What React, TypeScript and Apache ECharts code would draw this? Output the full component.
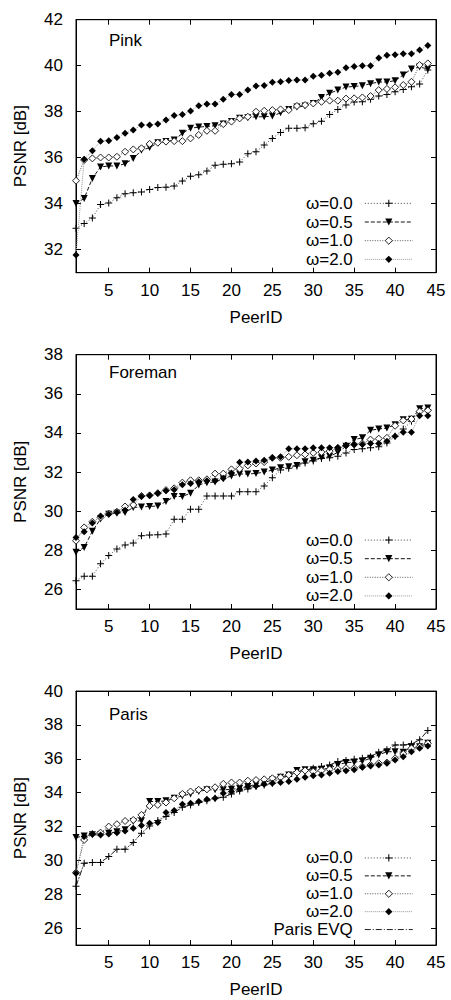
import React, { useEffect, useRef } from "react";
import * as echarts from "echarts";

// ---------- data ----------
const peerIds = [1, 2, 3, 4, 5, 6, 7, 8, 9, 10, 11, 12, 13, 14, 15, 16, 17, 18, 19, 20, 21, 22, 23, 24, 25, 26, 27, 28, 29, 30, 31, 32, 33, 34, 35, 36, 37, 38, 39, 40, 41, 42, 43, 44];
const xTicks = [5, 10, 15, 20, 25, 30, 35, 40, 45];
const pinkYTicks = [32, 34, 36, 38, 40, 42];
const foremanYTicks = [26, 28, 30, 32, 34, 36, 38];
const parisYTicks = [26, 28, 30, 32, 34, 36, 38, 40];
const seriesNames = ["ω=0.0", "ω=0.5", "ω=1.0", "ω=2.0"];
const evqName = "Paris EVQ";
const panelTitles = ["Pink", "Foreman", "Paris"];

const pinkW00 = [32.93, 33.14, 33.38, 33.96, 34.03, 34.26, 34.43, 34.48, 34.51, 34.62, 34.70, 34.72, 34.77, 34.99, 35.19, 35.26, 35.42, 35.67, 35.71, 35.74, 35.81, 36.17, 36.26, 36.55, 36.84, 37.10, 37.28, 37.28, 37.30, 37.48, 37.58, 37.88, 38.10, 38.29, 38.42, 38.43, 38.54, 38.68, 38.75, 38.87, 38.97, 39.09, 39.20, 39.81];
const pinkW05 = [34.01, 34.23, 35.10, 35.60, 35.64, 35.64, 35.74, 35.96, 36.32, 36.44, 36.65, 36.70, 36.77, 37.06, 37.28, 37.33, 37.36, 37.39, 37.46, 37.57, 37.71, 37.74, 37.78, 37.78, 37.81, 37.95, 38.10, 38.20, 38.25, 38.36, 38.62, 38.80, 38.94, 39.07, 39.10, 39.13, 39.22, 39.29, 39.29, 39.35, 39.60, 39.86, 39.94, 39.86];
const pinkW10 = [35.00, 35.90, 35.97, 36.01, 36.01, 36.04, 36.26, 36.36, 36.41, 36.60, 36.65, 36.70, 36.72, 36.72, 36.84, 36.99, 37.17, 37.17, 37.46, 37.57, 37.71, 37.78, 38.00, 38.04, 38.07, 38.10, 38.07, 38.25, 38.29, 38.36, 38.43, 38.48, 38.48, 38.57, 38.58, 38.62, 38.68, 38.94, 38.99, 39.06, 39.16, 39.30, 40.03, 40.10];
const pinkW20 = [31.77, 35.93, 36.30, 36.72, 36.74, 36.88, 37.06, 37.20, 37.42, 37.42, 37.46, 37.64, 37.83, 37.88, 38.03, 38.26, 38.33, 38.33, 38.54, 38.75, 38.75, 38.94, 39.12, 39.14, 39.28, 39.30, 39.36, 39.38, 39.38, 39.54, 39.58, 39.67, 39.71, 39.91, 39.96, 40.00, 40.00, 40.33, 40.45, 40.48, 40.52, 40.52, 40.68, 40.88];

const foremanW00 = [26.45, 26.68, 26.68, 27.31, 27.73, 28.07, 28.27, 28.37, 28.75, 28.78, 28.80, 28.83, 29.59, 29.59, 30.10, 30.10, 30.78, 30.78, 30.78, 30.78, 31.00, 31.00, 31.00, 31.29, 31.71, 32.10, 32.19, 32.31, 32.47, 32.56, 32.69, 32.73, 32.81, 32.98, 33.15, 33.19, 33.24, 33.29, 33.49, 33.83, 34.20, 34.60, 35.10, 35.19];
const foremanW05 = [27.90, 28.15, 28.97, 29.60, 29.85, 29.90, 29.93, 30.19, 30.22, 30.24, 30.27, 30.49, 30.75, 30.75, 30.92, 31.34, 31.46, 31.49, 31.66, 31.80, 31.90, 31.90, 31.93, 32.00, 32.10, 32.22, 32.27, 32.34, 32.53, 32.61, 32.73, 32.81, 33.00, 33.32, 33.66, 33.75, 34.14, 34.20, 34.25, 34.42, 34.68, 34.70, 35.24, 35.27];
const foremanW10 = [28.49, 29.17, 29.46, 29.68, 29.88, 29.97, 30.24, 30.32, 30.78, 30.81, 30.92, 31.08, 31.17, 31.46, 31.58, 31.58, 31.63, 31.92, 31.92, 32.14, 32.17, 32.34, 32.44, 32.51, 32.73, 32.73, 32.78, 32.86, 32.90, 32.98, 33.02, 33.07, 33.24, 33.36, 33.41, 33.46, 33.66, 33.71, 33.75, 34.37, 34.64, 34.71, 35.10, 35.15];
const foremanW20 = [28.66, 28.95, 29.40, 29.75, 29.85, 29.95, 30.05, 30.60, 30.75, 30.80, 30.92, 31.05, 31.10, 31.35, 31.42, 31.50, 31.55, 31.55, 31.68, 31.95, 32.50, 32.52, 32.56, 32.61, 32.73, 32.78, 33.19, 33.19, 33.19, 33.24, 33.24, 33.24, 33.24, 33.36, 33.41, 33.41, 33.46, 33.46, 33.58, 33.83, 34.03, 34.03, 34.88, 34.88];

const parisW00 = [28.47, 29.84, 29.88, 29.88, 30.23, 30.66, 30.66, 31.06, 31.61, 32.04, 32.36, 32.60, 32.83, 33.14, 33.28, 33.42, 33.52, 33.67, 33.73, 33.93, 34.10, 34.22, 34.36, 34.46, 34.56, 34.91, 34.95, 35.25, 35.31, 35.45, 35.54, 35.64, 35.84, 35.90, 35.97, 36.03, 36.13, 36.39, 36.53, 36.82, 36.82, 36.88, 37.12, 37.67];
const parisW05 = [31.35, 31.45, 31.51, 31.51, 31.60, 31.70, 31.81, 32.30, 32.35, 33.48, 33.48, 33.52, 33.67, 33.81, 33.93, 34.07, 34.17, 34.17, 34.17, 34.20, 34.26, 34.36, 34.50, 34.60, 34.75, 34.91, 35.05, 35.31, 35.35, 35.35, 35.38, 35.45, 35.64, 35.78, 35.80, 35.87, 36.03, 36.23, 36.42, 36.42, 36.39, 36.72, 36.72, 36.92];
const parisW10 = [29.28, 31.21, 31.56, 31.64, 32.00, 32.14, 32.33, 32.39, 32.69, 33.22, 33.28, 33.42, 33.67, 33.93, 34.07, 34.17, 34.20, 34.32, 34.52, 34.60, 34.60, 34.71, 34.75, 34.79, 34.85, 34.91, 35.05, 35.19, 35.31, 35.25, 35.31, 35.38, 35.40, 35.45, 35.45, 35.54, 35.64, 35.74, 35.78, 36.03, 36.29, 36.62, 36.72, 36.92];
const parisW20 = [29.24, 31.41, 31.56, 31.50, 31.56, 31.64, 31.74, 31.90, 32.06, 32.20, 32.24, 32.83, 32.95, 33.32, 33.38, 33.48, 33.61, 33.67, 33.97, 34.07, 34.20, 34.36, 34.40, 34.50, 34.56, 34.60, 34.66, 34.79, 34.91, 35.00, 35.05, 35.15, 35.25, 35.29, 35.35, 35.50, 35.58, 35.64, 35.74, 35.93, 36.13, 36.42, 36.62, 36.76];
// The EVQ curve is not distinguishable from the ω=0.0 curve in the picture.
const parisEvq = parisW00;

// ---------- styles / layout ----------
const FONT = "'Liberation Sans', Arial, Helvetica, sans-serif";
const FS = 17;
const PLUS = "path://M3,0H4V3H7V4H4V7H3V4H0V3H3Z";

const markerStyles = [
  { symbol: PLUS, symbolSize: 7, symbolRotate: 0, itemStyle: { color: "#000" }, lineStyle: { color: "#444", width: 1, type: [1, 2] } },
  { symbol: "triangle", symbolSize: 7, symbolRotate: 180, itemStyle: { color: "#000" }, lineStyle: { color: "#111", width: 1, type: [4, 2] } },
  { symbol: "diamond", symbolSize: 7, symbolRotate: 0, itemStyle: { color: "#fff", borderColor: "#222", borderWidth: 1 }, lineStyle: { color: "#555", width: 1, type: [1, 1.5] } },
  { symbol: "diamond", symbolSize: 7, symbolRotate: 0, itemStyle: { color: "#000" }, lineStyle: { color: "#999", width: 1, type: [1, 1] } },
];

const panels = [
  { data: [pinkW00, pinkW05, pinkW10, pinkW20], evq: null as number[] | null, yMin: 31, yMax: 42, yTicks: pinkYTicks, top: 19.7, height: 253, titleTop: 32, legendTop: 194, legendLH: 18.67 },
  { data: [foremanW00, foremanW05, foremanW10, foremanW20], evq: null as number[] | null, yMin: 25, yMax: 38, yTicks: foremanYTicks, top: 354.7, height: 254.3, titleTop: 364, legendTop: 530.8, legendLH: 18.6 },
  { data: [parisW00, parisW05, parisW10, parisW20], evq: parisEvq, yMin: 25, yMax: 40, yTicks: parisYTicks, top: 691.1, height: 254, titleTop: 706, legendTop: 849, legendLH: 17.9 },
];

function buildOption() {
  const grid: any[] = [];
  const xAxis: any[] = [];
  const yAxis: any[] = [];
  const series: any[] = [];
  const legend: any[] = [];
  const title: any[] = [];
  const axisLineStyle = { show: true, onZero: false, lineStyle: { color: "#000", width: 1 } };
  const tickStyle = (vals: number[]) => ({ show: true, inside: true, length: 5, customValues: vals, lineStyle: { color: "#000", width: 1 } });

  panels.forEach((p, i) => {
    grid.push({ left: 76, width: 360, top: p.top, height: p.height, show: true, borderColor: "#000", borderWidth: 1, backgroundColor: "transparent" });
    xAxis.push({
      type: "value", gridIndex: i, min: 1, max: 45, position: "bottom",
      axisLine: axisLineStyle, axisTick: tickStyle(xTicks), splitLine: { show: false },
      axisLabel: { show: true, customValues: xTicks, margin: 9, fontSize: FS, color: "#000", fontFamily: FONT },
      name: "PeerID", nameLocation: "middle", nameGap: 36,
      nameTextStyle: { fontSize: FS, color: "#000", fontFamily: FONT },
    });
    xAxis.push({
      type: "value", gridIndex: i, min: 1, max: 45, position: "top",
      axisLine: axisLineStyle, axisTick: tickStyle(xTicks), splitLine: { show: false },
      axisLabel: { show: false },
    });
    yAxis.push({
      type: "value", gridIndex: i, min: p.yMin, max: p.yMax, position: "left",
      axisLine: axisLineStyle, axisTick: tickStyle(p.yTicks), splitLine: { show: false },
      axisLabel: { show: true, customValues: p.yTicks, margin: 13, fontSize: FS, color: "#000", fontFamily: FONT },
      name: "PSNR [dB]", nameLocation: "middle", nameGap: 47, nameRotate: 90,
      nameTextStyle: { fontSize: FS, color: "#000", fontFamily: FONT },
    });
    yAxis.push({
      type: "value", gridIndex: i, min: p.yMin, max: p.yMax, position: "right",
      axisLine: axisLineStyle, axisTick: tickStyle(p.yTicks), splitLine: { show: false },
      axisLabel: { show: false },
    });

    if (p.evq) {
      series.push({
        type: "line", name: evqName, xAxisIndex: 2 * i, yAxisIndex: 2 * i,
        data: peerIds.map((id, j) => [id, p.evq![j]]),
        symbol: "circle", showSymbol: false, symbolSize: 7,
        itemStyle: { color: "rgba(0,0,0,0)" },
        lineStyle: { color: "#222", width: 1, type: [6, 2, 1, 2] },
        z: 1,
      });
    }
    p.data.forEach((vals, k) => {
      const m = markerStyles[k];
      series.push({
        type: "line", name: seriesNames[k], xAxisIndex: 2 * i, yAxisIndex: 2 * i,
        data: peerIds.map((id, j) => [id, vals[j]]),
        symbol: m.symbol, symbolSize: m.symbolSize, symbolRotate: m.symbolRotate,
        showSymbol: true, itemStyle: m.itemStyle, lineStyle: m.lineStyle,
        emphasis: { disabled: true }, z: 2 + k,
      });
    });

    const names = p.evq ? [...seriesNames, evqName] : [...seriesNames];
    legend.push({
      orient: "vertical", right: 451 - 413.3, top: p.legendTop, align: "right",
      itemWidth: 48, itemHeight: 9, itemGap: 0, padding: 0, selectedMode: false,
      data: names,
      lineStyle: { width: 1 },
      itemStyle: { borderWidth: 1 },
      textStyle: { fontSize: FS, color: "#000", fontFamily: FONT, lineHeight: p.legendLH, padding: [0, 7, 0, 0] },
    });
    title.push({
      text: panelTitles[i], left: 109, top: p.titleTop, padding: 0,
      textStyle: { fontSize: FS, fontWeight: "normal", color: "#000", fontFamily: FONT },
    });
  });

  return { animation: false, backgroundColor: "#fff", grid, xAxis, yAxis, series, legend, title };
}

export default function App() {
  const ref = useRef<HTMLDivElement>(null);
  useEffect(() => {
    if (!ref.current) return;
    const chart = echarts.init(ref.current, null, { renderer: "svg" });
    chart.setOption(buildOption() as any);
    return () => chart.dispose();
  }, []);
  return <div ref={ref} style={{ position: "absolute", left: 0, top: 0, width: 451, height: 1000 }} />;
}
